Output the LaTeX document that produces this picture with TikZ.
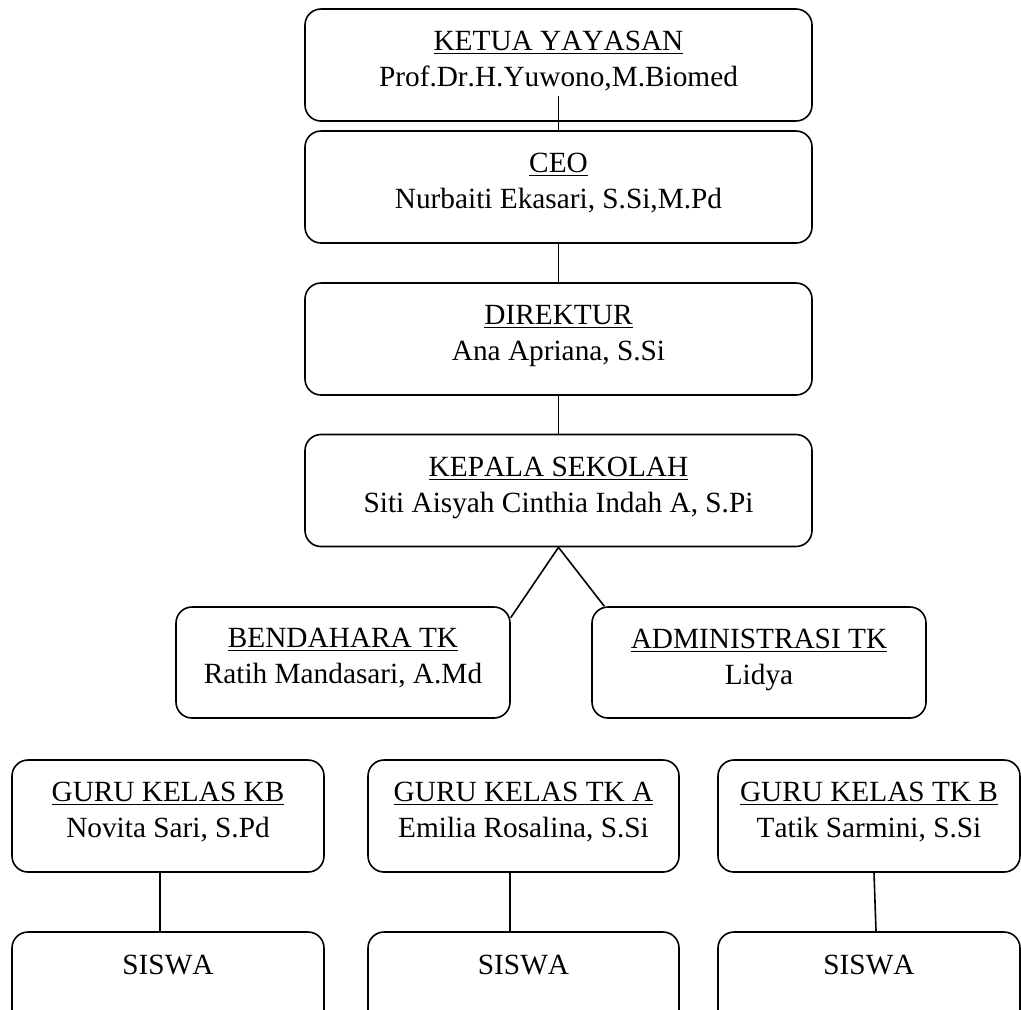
\documentclass[tikz,border=0pt]{standalone}
\usepackage{fontspec}
\setmainfont[Kerning = Off]{Liberation Serif}
\usepackage{tikz}

\newcommand{\jbt}[2]{\underline{#1}\\#2\rule[-6.2pt]{0pt}{6.2pt}}

\begin{document}
\begin{tikzpicture}[x = 0.5pt, y = -0.5pt,
                    kotak/.style = {draw, rounded corners = 8pt, line width = 0.8pt, align = center, inner sep = 0pt,
                                    font = \fontsize{14.65}{18}\selectfont},
                    pimpinan/.style = {kotak, minimum width = 253.5pt, minimum height = 56pt},
                    staf/.style = {kotak, minimum width = 167pt, minimum height = 55.5pt},
                    siswa/.style = {kotak, minimum height = 56pt, text height = 10pt, text depth = 24pt},
                    garis/.style = {line width = 0.8pt}]
                    \useasboundingbox (0, 0) rectangle (1021, 1009);

                    \node[pimpinan] (ketua) at (558.5, 65) {\jbt{KETUA YAYASAN}{Prof.Dr.H.Yuwono,M.Biomed}};
                    \node[pimpinan] (ceo) at (558.5, 187) {\jbt{CEO}{Nurbaiti Ekasari, S.Si,M.Pd}};
                    \node[pimpinan] (direktur) at (558.5, 339) {\jbt{DIREKTUR}{Ana Apriana, S.Si}};
                    \node[pimpinan] (kepsek) at (558.5, 490.5) {\jbt{KEPALA SEKOLAH}{Siti Aisyah Cinthia Indah A, S.Pi}};

                    \node[staf] (bendahara) at (343, 662.5) {\jbt{BENDAHARA TK}{Ratih Mandasari, A.Md}};
                    \node[staf] (admin) at (759, 662.5) {\jbt{ADMINISTRASI TK}{Lidya}};

                    \node[kotak, minimum width = 156pt, minimum height = 56pt] (guruKB) at (168, 816) {\jbt{GURU KELAS KB}{Novita Sari, S.Pd}};
                    \node[kotak, minimum width = 155.5pt, minimum height = 56pt] (guruA) at (523.5, 816) {\jbt{GURU KELAS TK A}{Emilia Rosalina, S.Si}};
                    \node[kotak, minimum width = 151pt, minimum height = 56pt] (guruB) at (869, 816) {\jbt{GURU KELAS TK B}{Tatik Sarmini, S.Si}};

                    \node[siswa, minimum width = 156pt] (siswaKB) at (168, 988) {SISWA};
                    \node[siswa, minimum width = 155.5pt] (siswaA) at (523.5, 988) {SISWA};
                    \node[siswa, minimum width = 151pt] (siswaB) at (869, 988) {SISWA};

                    \draw[garis]
                        ([yshift = 13pt]ketua.south) edge (ceo.north)
                        (ceo.south) edge (direktur.north)
                        (direktur.south) edge (kepsek.north)
                        (kepsek.south) edge (bendahara.15)
                        (kepsek.south) edge (admin.160)
                        ([xshift = -4pt]guruKB.south) edge ([xshift = -4pt]siswaKB.north)
                        ([xshift = -6.75pt]guruA.south) edge ([xshift = -6.75pt]siswaA.north)
                        ([xshift = 2.5pt]guruB.south) edge ([xshift = 3.5pt]siswaB.north)
                    ;
                \end{tikzpicture}
\end{document}
